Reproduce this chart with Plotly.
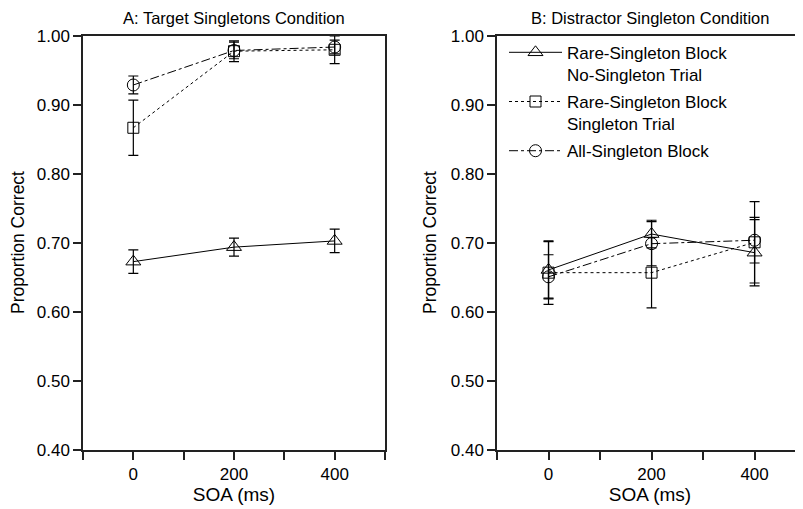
import plotly.graph_objects as go

soa = [0, 200, 400]

# Panel A: Target Singletons Condition
a_tri = [0.673, 0.694, 0.703]
a_tri_err = [0.017, 0.013, 0.017]
a_sq = [0.867, 0.978, 0.980]
a_sq_err = [0.040, 0.015, 0.020]
a_circ = [0.929, 0.979, 0.984]
a_circ_err = [0.013, 0.012, 0.010]

# Panel B: Distractor Singleton Condition
b_tri = [0.661, 0.713, 0.686]
b_tri_err = [0.041, 0.020, 0.048]
b_sq = [0.657, 0.657, 0.701]
b_sq_err = [0.046, 0.051, 0.059]
b_circ = [0.651, 0.699, 0.704]
b_circ_err = [0.032, 0.032, 0.033]

names = ["Rare-Singleton Block<br>No-Singleton Trial",
         "Rare-Singleton Block<br>Singleton Trial",
         "All-Singleton Block"]

yticks = [0.4, 0.5, 0.6, 0.7, 0.8, 0.9, 1.0]
xticks = [-100, 0, 100, 200, 300, 400, 500]
xticklabels = ["", "0", "", "200", "", "400", ""]

FONT = "Liberation Sans, Arial, sans-serif"
W, H = 795, 501  # page body has an 8px margin
fig = go.Figure()

styles = [
    dict(symbol="triangle-up-open", size=13, dash="solid"),
    dict(symbol="square-open", size=11, dash="dot"),
    dict(symbol="circle-open", size=12, dash="dashdot"),
]

def add(xa, ya, ys, errs, idx, show):
    st = styles[idx]
    fig.add_trace(go.Scatter(
        x=soa, y=ys, xaxis=xa, yaxis=ya, mode="lines+markers",
        name=names[idx], showlegend=show, legendgroup=str(idx),
        line=dict(color="black", width=1, dash=st["dash"]),
        marker=dict(symbol=st["symbol"], size=st["size"], color="black",
                    line=dict(width=1, color="black")),
        error_y=dict(type="data", array=errs, visible=True, color="black",
                     thickness=1.2, width=5),
    ))

add("x", "y", a_tri, a_tri_err, 0, False)
add("x", "y", a_sq, a_sq_err, 1, False)
add("x", "y", a_circ, a_circ_err, 2, False)
add("x2", "y2", b_tri, b_tri_err, 0, True)
add("x2", "y2", b_sq, b_sq_err, 1, True)
add("x2", "y2", b_circ, b_circ_err, 2, True)

axcommon = dict(showgrid=False, zeroline=False, showline=True, linecolor="#222",
                linewidth=1.5, ticks="outside", ticklen=8, tickcolor="#222",
                tickwidth=1.5, automargin=False,
                tickfont=dict(size=17, color="black", family=FONT))

ytitle = "Proportion Correct"

fig.update_layout(
    width=W, height=H,
    margin=dict(l=0, r=0, t=28, b=59),
    paper_bgcolor="white", plot_bgcolor="white",
    font=dict(family=FONT, size=16, color="black"),
    xaxis=dict(domain=[75/W, 377/W], range=[-100, 500], tickvals=xticks,
               ticktext=xticklabels, mirror=True,
               title=dict(text="SOA (ms)", standoff=2), **axcommon),
    yaxis=dict(range=[0.4, 1.0], tickvals=yticks, tickformat=".2f", mirror=True,
               **axcommon),
    xaxis2=dict(domain=[489/W, 1.0], range=[-100, 494], tickvals=xticks[:-1],
                ticktext=xticklabels[:-1], anchor="y2", mirror=True,
                title=dict(text="SOA (ms)", standoff=2), **axcommon),
    yaxis2=dict(range=[0.4, 1.0], tickvals=yticks, tickformat=".2f", anchor="x2",
                mirror=False, **axcommon),
    legend=dict(x=496/W, y=1.003, xanchor="left", yanchor="top", valign="top",
                bgcolor="rgba(0,0,0,0)", font=dict(size=17, family=FONT),
                itemwidth=53, tracegroupgap=2),
    annotations=[
        dict(text="A: Target Singletons Condition", xref="x domain", yref="paper",
             x=0.5, y=1.0, yshift=7, yanchor="bottom", showarrow=False,
             font=dict(size=16.5, family=FONT)),
        dict(text="B: Distractor Singleton Condition", xref="x2 domain", yref="paper",
             x=0.5, y=1.0, yshift=7, yanchor="bottom", showarrow=False,
             font=dict(size=16.5, family=FONT)),
        dict(text=ytitle, xref="x domain", yref="paper", x=0, xshift=-65, y=0.5,
             textangle=-90, xanchor="center", yanchor="middle", showarrow=False,
             font=dict(size=17.5, family=FONT)),
        dict(text=ytitle, xref="x2 domain", yref="paper", x=0, xshift=-67, y=0.5,
             textangle=-90, xanchor="center", yanchor="middle", showarrow=False,
             font=dict(size=17.5, family=FONT)),
    ],
)

fig.write_html("out.html")
